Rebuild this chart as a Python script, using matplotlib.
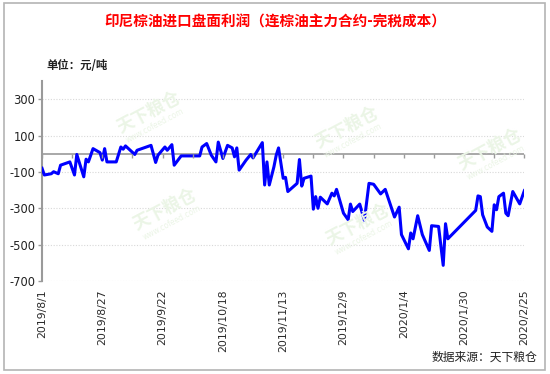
import matplotlib
matplotlib.use("Agg")
import matplotlib.pyplot as plt
from matplotlib.patches import Rectangle
import pandas as pd

plt.rcParams['font.family'] = ['DejaVu Sans', 'Noto Sans CJK SC']
CJK = ['Noto Sans CJK SC', 'DejaVu Sans']

# profit data (yuan/ton)
dates = [
    "2019-08-01", "2019-08-02", "2019-08-05", "2019-08-06", "2019-08-08", "2019-08-09",
    "2019-08-13", "2019-08-15", "2019-08-16", "2019-08-19", "2019-08-20", "2019-08-21",
    "2019-08-23", "2019-08-26", "2019-08-27", "2019-08-28", "2019-08-29",
    "2019-09-02", "2019-09-04", "2019-09-05", "2019-09-06", "2019-09-10", "2019-09-11",
    "2019-09-17", "2019-09-19", "2019-09-20", "2019-09-23", "2019-09-24", "2019-09-26",
    "2019-09-27", "2019-09-30",
    "2019-10-08", "2019-10-09", "2019-10-11", "2019-10-13", "2019-10-15", "2019-10-16",
    "2019-10-18", "2019-10-20", "2019-10-22", "2019-10-23", "2019-10-24", "2019-10-25",
    "2019-10-28", "2019-10-30", "2019-10-31",
    "2019-11-04", "2019-11-05", "2019-11-06", "2019-11-07", "2019-11-09", "2019-11-10",
    "2019-11-11", "2019-11-13", "2019-11-14", "2019-11-15", "2019-11-19", "2019-11-20",
    "2019-11-21", "2019-11-22", "2019-11-25", "2019-11-26", "2019-11-27", "2019-11-28",
    "2019-11-29",
    "2019-12-02", "2019-12-04", "2019-12-05", "2019-12-06", "2019-12-09", "2019-12-11",
    "2019-12-12", "2019-12-13", "2019-12-16", "2019-12-18", "2019-12-20", "2019-12-22",
    "2019-12-25", "2019-12-27", "2019-12-31",
    "2020-01-02", "2020-01-03", "2020-01-06", "2020-01-07", "2020-01-08", "2020-01-10",
    "2020-01-12", "2020-01-15", "2020-01-16", "2020-01-19", "2020-01-21", "2020-01-22",
    "2020-01-23",
    "2020-02-04", "2020-02-05", "2020-02-06", "2020-02-07", "2020-02-09", "2020-02-11",
    "2020-02-12", "2020-02-13", "2020-02-14", "2020-02-16", "2020-02-17", "2020-02-18",
    "2020-02-20", "2020-02-23", "2020-02-25",
]
profit = [
    -80, -117, -110, -99, -110, -63, -45, -117, -4, -127,
    -30, -45, 28, 6, -35, 28, -45, -45, 37, 25,
    43, -4, 19, 46, -48, -8, 37, 19, 50, -63,
    -12, -12, 37, 56, -8, -45, 64, -26, 46, 32,
    -17, 32, -90, -35, -4, -23, 61, -172, -45, -172,
    -72, -8, 32, -135, -130, -208, -163, -32, -178, -135,
    -123, -305, -236, -300, -239, -276, -217, -232, -196, -327,
    -363, -277, -318, -277, -367, -163, -168, -221, -196, -348,
    -294, -445, -523, -436, -468, -341, -445, -532, -396, -400,
    -614, -385, -468, -312, -232, -236, -336, -403, -427, -281,
    -308, -236, -217, -327, -341, -208, -276, -203,
]
y_ticks = [300, 100, -100, -300, -500, -700]
x_start, x_end = "2019-08-01", "2020-02-25"

title = "印尼棕油进口盘面利润（连棕油主力合约-完税成本）"
unit = "单位：元/吨"
source = "数据来源：天下粮仓"

x = pd.to_datetime(dates)
x0, x1 = pd.Timestamp(x_start), pd.Timestamp(x_end)
label_dates = pd.date_range(x0, x1, freq="26D")
tick_dates = pd.date_range(x0, x1, freq="13D")

fig = plt.figure(figsize=(5.5, 3.74), dpi=100)
fig.patches.append(Rectangle((0.0073, 0.0107), 0.9836, 0.98, transform=fig.transFigure,
                             fill=False, edgecolor="#b4b4b4", linewidth=1.2))

ax = fig.add_axes([0.0764, 0.2487, 0.877, 0.5347])

# faint watermarks
for wx, wy in [(0.27, 0.70), (0.30, 0.44), (0.63, 0.66), (0.89, 0.60), (0.65, 0.40)]:
    fig.text(wx, wy, "天下粮仓", family=CJK, fontsize=12.5, fontweight="bold",
             color="#ebf5e6", rotation=28, ha="center", va="center", zorder=0)
    fig.text(wx + 0.012, wy - 0.035, "www.cofeed.com", fontsize=5.5,
             color="#ebf5e6", rotation=28, ha="center", va="center", zorder=0)

ax.patch.set_alpha(0)
ax.plot(x, profit, color="#0000ff", linewidth=2.2, zorder=3)
ax.axhline(0, color="#9a9a9a", linewidth=1.2, zorder=2)

ax.set_xlim(x0, x1)
ax.set_ylim(-700, 400)
ax.set_yticks(y_ticks)
ax.set_yticklabels([str(v) for v in y_ticks])
ax.yaxis.grid(True, linestyle=(0, (1, 1.5)), color="#d8d8d8", linewidth=0.8)

ax.set_xticks(label_dates)
ax.set_xticklabels([f"{d.year}/{d.month}/{d.day}" for d in label_dates], rotation=90)
ax.tick_params(axis="x", length=0, pad=6, labelsize=7.8, labelcolor="#2a2a2a")
ax.tick_params(axis="y", length=3, color="#9a9a9a", width=1, pad=2,
               labelsize=8.3, labelcolor="#222222")

for side in ["top", "right", "bottom"]:
    ax.spines[side].set_visible(False)
ax.spines["left"].set_color("#9a9a9a")
ax.spines["left"].set_linewidth(1.5)

# small tick marks hanging from the zero line
ax2 = ax.twiny()
ax2.set_xlim(x0, x1)
ax2.patch.set_alpha(0)
for side in ["top", "right", "left", "bottom"]:
    ax2.spines[side].set_visible(False)
ax2.spines["bottom"].set_position(("data", 0))
ax2.xaxis.set_ticks_position("bottom")
ax2.set_xticks(tick_dates)
ax2.tick_params(axis="x", direction="out", length=3, color="#9a9a9a", width=1,
                labelbottom=False, labeltop=False)

fig.text(0.5, 0.9417, title, family=CJK, fontsize=10.5, fontweight="bold",
         color="#ff0000", ha="center", va="center")
fig.text(0.0836, 0.826, unit, family=CJK, fontsize=8.2, fontweight="bold",
         color="#222222", ha="left", va="center")
fig.text(0.976, 0.0436, source, family=CJK, fontsize=8.5, color="#222222",
         ha="right", va="center")

fig.savefig("out.png", dpi=100)
